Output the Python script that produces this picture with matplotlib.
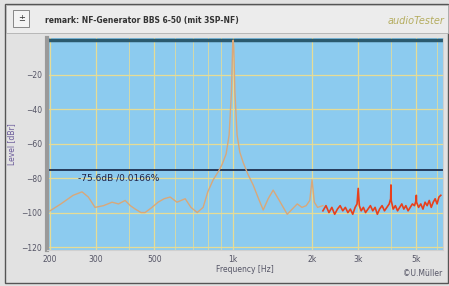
import numpy as np
import matplotlib.pyplot as plt
from matplotlib.patches import Rectangle

# trace of the audio analyzer (orange part)
freq = [200, 220, 245, 265, 280, 297, 320, 345, 365, 387, 405, 423, 445, 461,
        490, 517, 545, 575, 610, 656, 690, 729, 768, 800, 839, 880, 908, 940,
        965, 985, 995, 1000, 1005, 1015, 1035, 1060, 1092, 1140, 1192, 1250,
        1302, 1360, 1421, 1500, 1608, 1680, 1756, 1830, 1900, 1960, 2000, 2040,
        2100, 2200]
level = [-99, -95, -90, -88, -91, -97, -96, -94, -95, -93, -96, -98, -100, -100,
         -97, -94, -92, -91, -94, -92, -97, -100, -97, -88, -81, -76, -72, -66,
         -55, -30, -4, 0, -4, -30, -55, -65, -71, -78, -84, -92,
         -98.5, -92, -87, -93, -101, -98, -95, -97, -96, -93, -81, -94,
         -97, -96]

# noisy upper part (red)
red_freq = [2200, 2260, 2320, 2380, 2440, 2500, 2560, 2620, 2680, 2740,
            2800, 2860, 2920, 2970, 3000, 3030, 3080, 3140, 3200, 3270,
            3340, 3410, 3480, 3550, 3620, 3700, 3780, 3860, 3940, 3990,
            4000, 4010, 4080, 4160, 4240, 4320, 4400, 4480, 4560, 4650,
            4740, 4830, 4920, 4990, 5000, 5010, 5100, 5200, 5300, 5400,
            5500, 5600, 5700, 5800, 5900, 6000, 6100, 6200]
red_level = [-99, -96, -100, -97, -101, -98, -96, -99, -97, -100,
             -98, -101, -97, -95, -86, -96, -99, -97, -100, -98,
             -96, -99, -97, -101, -98, -96, -99, -97, -95, -92,
             -84, -93, -98, -96, -99, -97, -95, -98, -96, -99,
             -97, -95, -96, -93, -90, -94, -97, -95, -98, -94,
             -96, -93, -97, -94, -92, -95, -91, -90]

xticks = [200, 300, 500, 1000, 2000, 3000, 5000]
xtick_labels = ['200', '300', '500', '1k', '2k', '3k', '5k']
yticks = [-20, -40, -60, -80, -100, -120]
marker_level = -75.6

fig = plt.figure(figsize=(4.49, 2.86), dpi=100)
fig.patch.set_facecolor('#e2e2e2')

# window frame and title bar
fig.patches.append(Rectangle((0.012, 0.01), 0.986, 0.975, transform=fig.transFigure,
                             fill=False, edgecolor='#555555', lw=1.0))
fig.patches.append(Rectangle((0.013, 0.885), 0.984, 0.098, transform=fig.transFigure,
                             facecolor='#ececec', edgecolor='#b0b0b0', lw=0.6))
fig.patches.append(Rectangle((0.03, 0.905), 0.035, 0.06, transform=fig.transFigure,
                             facecolor='#f4f4f4', edgecolor='#777777', lw=0.6))
fig.text(0.047, 0.935, '±', fontsize=6, ha='center', va='center', color='#333333')
fig.text(0.1, 0.93, 'remark: NF-Generator BBS 6-50 (mit 3SP-NF)', fontsize=5.5,
         fontweight='bold', color='#333333', va='center')
fig.text(0.99, 0.925, 'audioTester', fontsize=7, color='#b5ad60', va='center',
         ha='right', style='italic')

ax = fig.add_axes([0.105, 0.126, 0.882, 0.741])
ax.set_facecolor('#8ccbef')
ax.set_xscale('log')
ax.set_xlim(195, 6330)
ax.set_ylim(-121.7, 1.2)

ax.grid(True, which='major', color='#e6dc96', lw=0.9)
ax.grid(True, which='minor', axis='x', color='#e6dc96', lw=0.7, alpha=0.8)
ax.axhline(0, color='#2b5a6e', lw=2.5)
ax.axhline(marker_level, color='#1e2f4f', lw=1.3)
ax.text(255, marker_level - 1.5, '-75.6dB /0.0166%', fontsize=6.5, color='#222244',
        va='top')

ax.plot(freq, level, color='#d9a87a', lw=1.0)
ax.plot(red_freq, red_level, color='#e8401c', lw=1.2)

ax.set_xticks(xticks)
ax.set_xticklabels(xtick_labels)
ax.minorticks_on()
ax.xaxis.set_minor_formatter(plt.NullFormatter())
ax.set_yticks(yticks)
ax.tick_params(axis='both', which='both', length=0, labelsize=5.5, colors='#555566')
ax.yaxis.set_minor_locator(plt.NullLocator())
ax.set_xlabel('Frequency [Hz]', fontsize=5.5, color='#555566', labelpad=1)
ax.set_ylabel('Level [dBr]', fontsize=5.5, color='#6a5a9a', labelpad=4)

ax.spines['left'].set_color('#9a9a9a')
ax.spines['left'].set_linewidth(3)
ax.spines['bottom'].set_color('#d0d0d0')
ax.spines['top'].set_visible(False)
ax.spines['right'].set_color('#d0d0d0')

fig.text(0.985, 0.035, '©U.Müller', fontsize=5.5, color='#555566', ha='right')

fig.savefig('out.png', dpi=100, facecolor=fig.get_facecolor())
